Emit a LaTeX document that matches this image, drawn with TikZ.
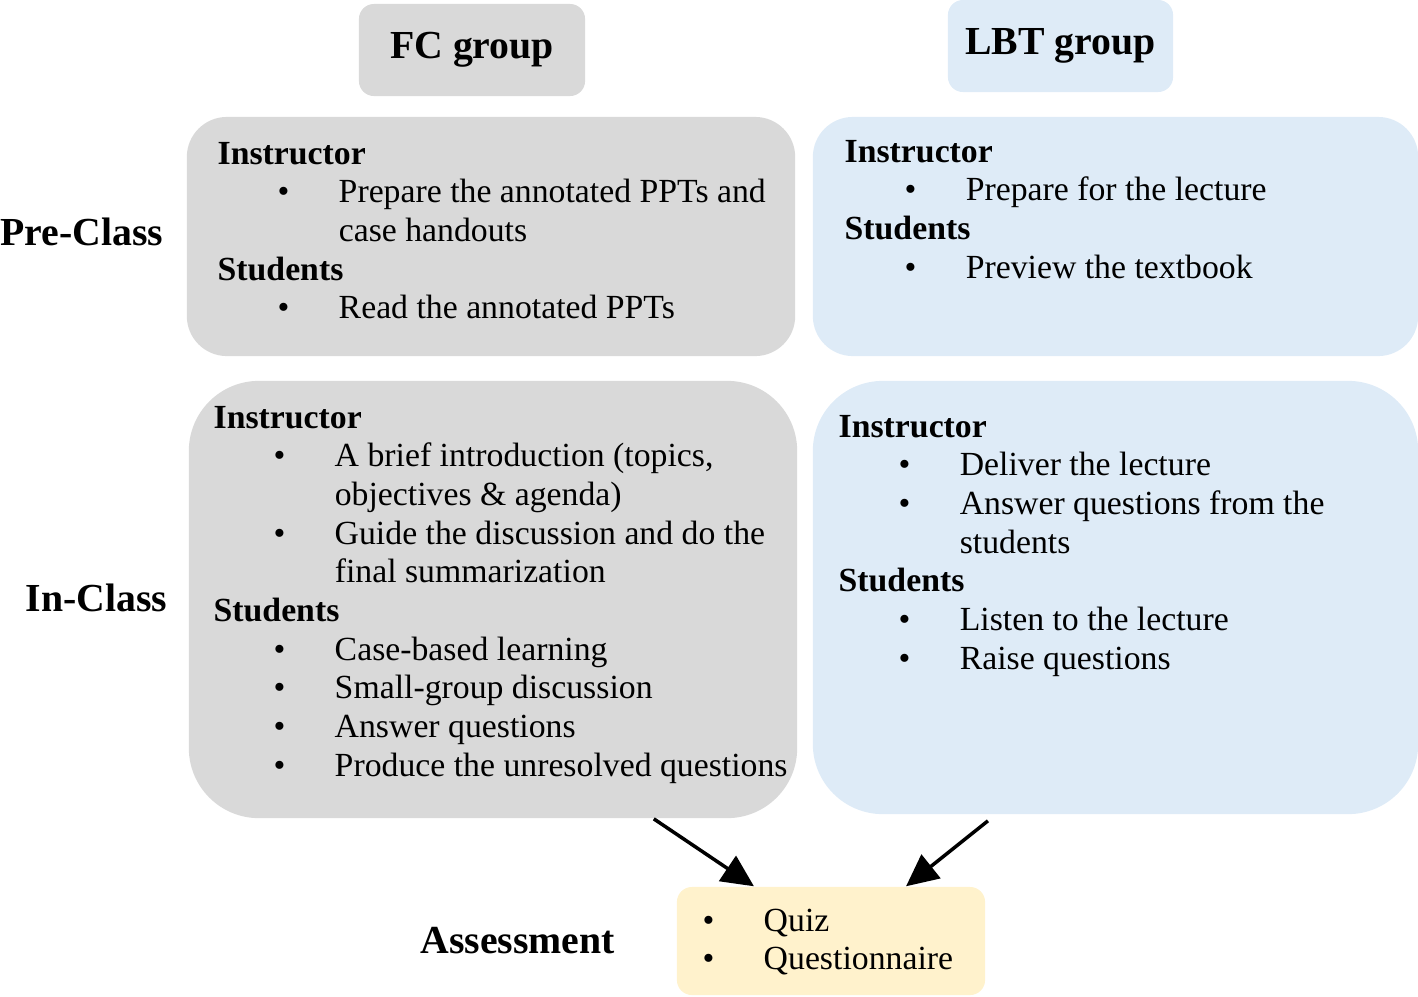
\documentclass[tikz,border=0pt]{standalone}
\usepackage{fontspec}
\setmainfont{Liberation Serif}
\usetikzlibrary{arrows.meta}

\definecolor{fcgray}{HTML}{D9D9D9}
\definecolor{lbtblue}{HTML}{DEEBF7}
\definecolor{asmtyellow}{HTML}{FFF2CC}

\newcommand{\itm}{\hspace*{6mm}\makebox[6.1mm][l]{\textbullet}}
\newcommand{\cnt}{\hspace*{12.1mm}}
\newcommand{\hd}[1]{\textbf{#1}}

\begin{document}
\begin{tikzpicture}[x=0.01cm, y=-0.01cm,
    panel/.style={inner sep=0pt},
    header/.style={panel, rounded corners=1.5mm, font=\fontsize{11.3}{13}\selectfont\bfseries},
    phase/.style={anchor=base west, inner sep=0pt, font=\fontsize{11.3}{13}\selectfont\bfseries},
    body/.style={anchor=base west, inner sep=0pt, font=\fontsize{9.6}{11}\selectfont},
    arr/.style={-{Triangle[length=3.2mm,width=3mm]}, line width=0.35mm}]
    \useasboundingbox (0,0) rectangle (1418,996);

    % group headers
    \node[header, fill=fcgray, minimum width=2.26cm, minimum height=0.92cm] (fchead) at (472,50) {FC group};
    \node[header, fill=lbtblue, minimum width=2.25cm, minimum height=0.92cm] (lbthead) at (1060.5,46) {LBT group};

    % panels
    \node[panel, rounded corners=4mm, fill=fcgray, minimum width=6.08cm, minimum height=2.39cm] (fcpre) at (491,236.5) {};
    \node[panel, rounded corners=4mm, fill=lbtblue, minimum width=6.05cm, minimum height=2.39cm] (lbtpre) at (1115.5,236.5) {};
    \node[panel, rounded corners=7mm, fill=fcgray, minimum width=6.08cm, minimum height=4.37cm] (fcin) at (493,599.5) {};
    \node[panel, rounded corners=7mm, fill=lbtblue, minimum width=6.05cm, minimum height=4.33cm] (lbtin) at (1115.5,597.5) {};
    \node[panel, rounded corners=1.5mm, fill=asmtyellow, minimum width=3.08cm, minimum height=1.08cm] (asmt) at (831,941) {};

    % phase labels
    \node[phase] (pre) at (0,245) {Pre-Class};
    \node[phase] (in) at (25,611) {In-Class};
    \node[phase] (assess) at (420,953) {Assessment};

    % panel texts
    \node[body] (fcpretxt) at (217,164) {\begin{tabular}[t]{@{}l@{}}
        \hd{Instructor}\\
        \itm Prepare the annotated PPTs and\\
        \cnt case handouts\\
        \hd{Students}\\
        \itm Read the annotated PPTs
    \end{tabular}};
    \node[body] (lbtpretxt) at (844,162) {\begin{tabular}[t]{@{}l@{}}
        \hd{Instructor}\\
        \itm Prepare for the lecture\\
        \hd{Students}\\
        \itm Preview the textbook
    \end{tabular}};
    \node[body] (fcintxt) at (213,428) {\begin{tabular}[t]{@{}l@{}}
        \hd{Instructor}\\
        \itm A brief introduction (topics,\\
        \cnt objectives \& agenda)\\
        \itm Guide the discussion and do the\\
        \cnt final summarization\\
        \hd{Students}\\
        \itm Case-based learning\\
        \itm Small-group discussion\\
        \itm Answer questions\\
        \itm Produce the unresolved questions
    \end{tabular}};
    \node[body] (lbtintxt) at (838,437) {\begin{tabular}[t]{@{}l@{}}
        \hd{Instructor}\\
        \itm Deliver the lecture\\
        \itm Answer questions from the\\
        \cnt students\\
        \hd{Students}\\
        \itm Listen to the lecture\\
        \itm Raise questions
    \end{tabular}};
    \node[body] (asmttxt) at (642,931) {\begin{tabular}[t]{@{}l@{}}
        \itm Quiz\\
        \itm Questionnaire
    \end{tabular}};

    % arrows to assessment
    \draw[arr] ([xshift=-1.44cm]fcin.south east) -- ([xshift=-0.77cm]asmt.north);
    \draw[arr] ([xshift=-1.275cm,yshift=-0.06cm]lbtin.south) -- ([xshift=0.75cm]asmt.north);
\end{tikzpicture}
\end{document}
